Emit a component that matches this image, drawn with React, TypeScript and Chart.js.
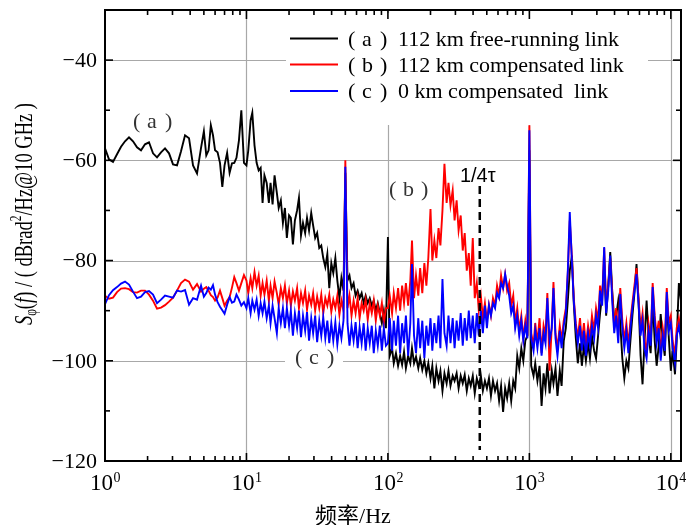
import React, { useEffect, useRef } from "react";
import { Chart, registerables } from "chart.js";

Chart.register(...registerables);

// ---------- data ----------
const FREQ_HZ = [
  1, 1.067, 1.139, 1.216, 1.298, 1.385, 1.478, 1.578, 1.684, 1.797,
  1.918, 2.047, 2.185, 2.332, 2.489, 2.656, 2.835, 3.026, 3.23, 3.447,
  3.679, 3.927, 4.191, 4.473, 4.774,
  5.0, 5.2, 5.4, 5.6, 5.8, 6.0, 6.25, 6.5, 6.75, 7.0,
  7.3, 7.6, 7.9, 8.2, 8.5, 8.85, 9.2, 9.6,
  10.0, 10.3, 10.7, 11.0, 11.4, 11.8, 12.2, 12.6, 13.0, 13.4,
  13.9, 14.4, 14.8, 15.3, 15.8, 16.4, 16.9, 17.5, 18.1, 18.7,
  19.3, 20.0, 20.6, 21.3, 22.0, 22.8, 23.5, 24.3, 25.1, 26.0,
  26.8, 27.7, 28.7, 29.6, 30.6, 31.6, 32.7, 33.8, 34.9, 36.1,
  37.3, 38.5, 39.8, 41.1, 42.5, 43.9, 45.4, 46.9, 48.5, 50.0,
  51.8, 53.5, 55.3, 57.2, 59.1, 61.1, 63.1, 65.2, 67.4, 69.6,
  72.0, 74.4, 76.9, 79.4, 82.1, 84.8, 87.7, 90.6, 93.6, 96.8,
  100, 103, 107, 110, 114, 118, 122, 126, 130, 134,
  139, 144, 148, 153, 158, 164, 169, 175, 181, 187,
  193, 200, 206, 213, 220, 228, 235, 243, 251, 260,
  268, 277, 287, 296, 306, 316, 327, 338, 349, 361,
  373, 385, 398, 411, 425, 439, 454, 469, 485, 501,
  518, 535, 553, 572, 591, 611, 631, 652, 674, 696,
  720, 744, 769, 794, 821, 848, 877, 906, 936, 968,
  1000, 1030, 1070, 1100, 1140, 1180, 1220, 1260, 1300, 1340,
  1390, 1440, 1480, 1530, 1580, 1640, 1690, 1750, 1810, 1870,
  1930, 2000, 2060, 2130, 2200, 2280, 2350, 2430, 2510, 2600,
  2680, 2770, 2870, 2960, 3060, 3160, 3270, 3380, 3490, 3610,
  3730, 3850, 3980, 4110, 4250, 4390, 4540, 4690, 4850, 5010,
  5180, 5350, 5530, 5720, 5910, 6110, 6310, 6520, 6740, 6960,
  7200, 7440, 7690, 7940, 8210, 8480, 8770, 9060, 9360, 9680,
  10000, 10300, 10700, 11000, 11400, 11800,
];

// (a) 112 km free-running link
const FREE_RUNNING_112KM = [
  -57.6, -59.8, -60.3, -58.8, -57.3, -56.2, -55.4, -56.2, -57.4, -58.0,
  -56.8, -56.4, -58.6, -59.4, -58.4, -57.6, -58.6, -60.8, -61.0, -58.2,
  -55.0, -55.6, -61.0, -62.6, -57.5,
  -54.2, -59.0, -58.0, -53.0, -55.0, -58.0, -58.4, -60.5, -65.3, -61.0,
  -58.5, -62.5, -60.6, -60.5, -59.5, -56.0, -50.0, -60.5,
  -61.0, -58.0, -52.0, -50.5, -57.0, -60.5, -62.0, -61.5, -68.5, -63.0,
  -64.5, -68.5, -64.5, -68.8, -63.0, -66.5, -69.5, -68.0, -72.5, -69.5,
  -75.5, -71.0, -71.5, -76.8, -72.0, -70.0, -67.5, -75.0, -72.5, -74.5,
  -71.5, -74.0, -70.5, -73.0, -75.5, -74.5, -77.5, -77.0, -79.5, -81.3,
  -78.7, -85.5, -80.5, -82.5, -79.5, -84.0, -87.5, -83.5, -86.0, -62.5,
  -84.0, -83.0, -85.5, -84.5, -87.0, -86.0, -87.5, -86.5, -88.5, -87.0,
  -88.5, -87.5, -89.0, -88.0, -90.0, -88.5, -90.5, -92.5, -90.0, -93.5,
  -75.3, -99.0, -97.5, -100.5, -98.5, -101.0, -99.0, -100.8, -98.2, -101.5,
  -99.0, -100.5, -97.5, -100.5, -99.2, -101.5, -99.5, -101.8, -100.0, -102.5,
  -100.5, -103.5, -101.0, -105.5, -101.5, -104.0, -102.0, -106.0, -102.5, -104.5,
  -102.0, -105.0, -103.0, -104.0, -102.5, -105.5, -103.0, -104.5, -102.8, -106.0,
  -103.5, -105.0, -103.0, -106.5, -103.5, -105.0, -103.0, -106.0, -104.0, -105.5,
  -103.5, -107.0, -104.0, -106.0, -104.5, -108.0, -105.0, -110.2, -105.5, -107.5,
  -104.5, -108.0, -104.0, -105.5, -99.0, -101.5, -97.5, -100.0, -96.0, -95.0,
  -58.0, -101.0, -103.0, -100.5, -104.0, -101.0, -109.0, -102.5, -105.5, -100.5,
  -106.5, -102.0, -104.5, -101.5, -107.0, -102.0, -105.0, -96.0, -93.5, -88.0,
  -82.0, -79.0, -88.5, -95.5, -100.5, -96.5, -101.0, -97.0, -100.0, -96.5,
  -99.5, -95.0, -98.0, -99.5, -95.0, -90.5, -87.0, -81.0, -91.0, -85.0,
  -78.3, -86.0, -92.0, -91.0, -88.0, -92.5, -99.5, -103.5, -100.0, -101.5,
  -96.0, -91.0, -86.5, -80.7, -88.0, -99.0, -104.7, -96.0, -88.0, -95.0,
  -98.5, -88.0, -96.0, -101.0, -97.0, -90.7, -96.0, -99.0, -88.0, -95.5,
  -102.0, -98.0, -102.7, -96.0, -84.5, -88.0,
];

// (b) 112 km compensated link
const COMPENSATED_112KM = [
  -87.0, -87.6, -87.4, -86.3, -85.6, -85.5, -85.7, -86.3, -86.4, -86.0,
  -86.0, -86.8, -88.0, -89.6, -89.4, -88.9, -88.2, -87.4, -86.0, -84.5,
  -83.8, -84.2, -85.8, -84.7, -86.2,
  -85.6, -85.3, -86.0, -86.9, -87.3, -88.0, -87.4, -86.0, -87.5, -89.0,
  -88.0, -87.3, -85.4, -83.3, -84.5, -86.0, -84.5, -82.9,
  -84.0, -86.5, -83.5, -85.5, -82.3, -85.0, -83.0, -87.0, -84.5, -86.8,
  -84.0, -88.0, -85.0, -87.5, -84.2, -86.5, -88.8, -85.5, -87.5, -85.0,
  -88.5, -86.0, -89.0, -86.2, -88.0, -85.5, -89.5, -86.5, -88.5, -86.0,
  -89.8, -87.0, -88.8, -86.5, -90.0, -87.2, -89.5, -86.8, -90.5, -87.5,
  -89.0, -86.8, -90.2, -87.8, -89.5, -87.0, -90.8, -88.0, -90.0, -60.0,
  -89.5, -87.0, -91.0, -88.0, -90.5, -87.5, -91.5, -88.5, -90.0, -87.8,
  -91.8, -88.5, -90.5, -88.0, -92.0, -89.0, -91.0, -88.5, -92.5, -89.5,
  -89.5, -87.0, -90.5, -86.5, -89.5, -85.5, -90.0, -85.0, -88.5, -84.5,
  -89.0, -84.0, -76.0, -87.5, -83.0, -87.0, -81.5, -86.5, -80.5, -85.0,
  -79.5, -69.7, -80.0, -76.0, -79.5, -73.5, -77.0, -70.0, -60.7, -68.5,
  -64.5, -69.0, -66.0, -72.0, -68.0, -74.0, -71.0, -78.0, -74.5, -82.0,
  -78.5, -85.0, -75.5, -87.5, -84.5, -90.0, -87.0, -91.5, -88.5, -92.0,
  -88.8, -91.0, -87.5, -89.0, -85.0, -87.0, -83.0, -85.5, -82.8, -86.0,
  -84.5, -89.0, -87.0, -92.5, -89.5, -94.0, -91.0, -95.5, -92.0, -95.0,
  -53.0, -94.5, -97.0, -92.5, -96.5, -91.5, -98.5, -93.0, -95.0, -86.5,
  -102.0, -93.0, -84.3, -94.5, -97.5, -93.0, -96.0, -92.0, -89.5, -82.5,
  -72.0, -79.5, -87.5, -92.5, -95.5, -91.5, -96.5, -92.5, -97.0, -93.0,
  -95.5, -91.0, -94.0, -89.5, -92.0, -85.0, -88.0, -77.5, -89.0, -85.0,
  -79.5, -86.5, -93.5, -89.5, -95.0, -85.5, -92.0, -96.0, -92.5, -97.0,
  -92.0, -88.5, -85.0, -81.5, -87.5, -93.5, -90.5, -96.0, -98.0, -92.5,
  -95.5, -84.5, -91.0, -95.0, -92.0, -98.5, -93.5, -96.5, -85.5, -92.5,
  -91.0, -96.0, -99.0, -93.5, -91.5, -94.5,
];

// (c) 0 km compensated link
const COMPENSATED_0KM = [
  -88.7, -86.9, -85.9, -85.3, -84.6, -84.2, -84.8, -86.2, -87.5, -87.2,
  -86.3, -86.1, -86.8, -88.5, -87.8, -87.0, -87.2, -87.4, -86.0, -86.2,
  -85.9, -88.8, -87.5, -87.8, -85.0,
  -87.2, -86.5, -85.4, -85.8, -84.9, -86.8, -88.3, -89.2, -89.9, -90.6,
  -88.8, -87.3, -88.4, -88.2, -86.8, -87.8, -89.0, -88.3,
  -89.5, -87.5, -90.5, -88.0, -89.8, -87.8, -91.0, -88.5, -90.5, -88.2,
  -91.5, -89.0, -92.5, -89.0, -91.5, -94.5, -89.5, -92.5, -89.5, -93.5,
  -89.5, -93.0, -90.0, -95.0, -90.5, -93.5, -90.0, -95.3, -91.0, -94.0,
  -90.3, -96.0, -91.5, -94.5, -91.0, -96.3, -92.0, -95.0, -91.3, -95.5,
  -92.0, -96.5, -92.5, -96.0, -92.3, -96.7, -93.0, -95.5, -92.0, -61.3,
  -92.5, -97.0, -93.0, -96.0, -92.3, -97.5, -93.3, -96.5, -92.5, -98.0,
  -93.5, -96.5, -93.0, -98.5, -94.0, -97.0, -93.0, -98.0, -93.5, -97.0,
  -96.5, -91.5, -98.0, -92.0, -97.0, -91.0, -98.5, -92.5, -96.5, -91.0,
  -99.0, -92.5, -80.7, -95.0, -98.5, -91.5, -97.5, -92.0, -99.5, -93.0,
  -97.0, -91.5, -98.0, -92.5, -96.5, -91.0, -97.5, -83.7, -94.5, -97.0,
  -91.0, -96.5, -91.5, -97.5, -92.0, -96.0, -90.5, -97.0, -91.5, -96.0,
  -90.0, -95.5, -91.0, -96.5, -90.5, -95.0, -90.0, -94.5, -89.0, -93.5,
  -89.0, -91.0, -88.5, -89.5, -86.5, -87.5, -84.5, -85.5, -82.7, -85.0,
  -87.0, -90.5, -89.0, -93.5, -91.0, -95.0, -92.0, -96.0, -93.0, -95.5,
  -54.0, -95.5, -98.0, -94.0, -97.5, -93.5, -99.0, -94.5, -96.5, -87.5,
  -96.0, -93.5, -85.5, -95.5, -99.0, -94.0, -97.5, -93.0, -90.5, -82.0,
  -70.3, -80.5, -88.0, -93.5, -96.5, -93.0, -98.0, -94.0, -99.0, -94.5,
  -97.0, -93.0, -95.5, -91.0, -93.5, -86.0, -89.0, -77.3, -90.5, -86.0,
  -79.0, -88.0, -94.5, -91.0, -96.5, -86.7, -93.5, -97.5, -94.0, -98.5,
  -93.5, -89.5, -86.0, -82.7, -88.5, -95.0, -92.0, -97.5, -99.5, -94.0,
  -97.0, -85.3, -92.0, -96.5, -93.5, -100.0, -95.0, -98.0, -86.3, -94.0,
  -92.5, -97.5, -100.5, -95.0, -93.0, -96.0,
];

const SERIES_TAGS = ["a", "b", "c"];
const SERIES_LABELS = [
  "112 km free-running link",
  "112 km compensated link",
  "0 km compensated  link",
];
const SERIES_COLORS = ["#000000", "#ff0000", "#0000ff"];

const Y_MAJOR = [-120, -100, -80, -60, -40];
const Y_MAJOR_LABELS = ["\u2212120", "\u2212100", "\u221280", "\u221260", "\u221240"];
const Y_MINOR = [-110, -90, -70, -50];
const Y_GRID = [-100, -80, -60, -40];
const X_DECADES = [1, 10, 100, 1000, 10000];
const X_DECADE_EXP = ["0", "1", "2", "3", "4"];
const X_GRID = [10, 100, 1000, 10000];
const X_MINOR_MULT = [2, 3, 4, 5, 6, 7, 8, 9];
const X_MIN = 1;
const X_MAX = 11800;
const Y_MIN = -120;
const Y_MAX = -30;
const QUARTER_TAU_HZ = 446;

const SERIF = "'Liberation Serif', 'DejaVu Serif', serif";
const SANS = "'Liberation Sans', 'DejaVu Sans', sans-serif";

function hLine(ctx: CanvasRenderingContext2D, x1: number, y1: number, x2: number, y2: number) {
  ctx.beginPath();
  ctx.moveTo(x1, y1);
  ctx.lineTo(x2, y2);
  ctx.stroke();
}

function parenTag(ctx: CanvasRenderingContext2D, tag: string, x: number, base: number) {
  ctx.textAlign = "left";
  ctx.textBaseline = "alphabetic";
  ctx.fillText("(", x, base);
  ctx.fillText(tag, x + 14, base);
  ctx.fillText(")", x + 32, base);
}

const decor = {
  id: "decor",
  beforeDatasetsDraw(chart: any) {
    const { ctx, chartArea: a, scales } = chart;
    const xs = scales.x;
    const ys = scales.y;
    ctx.save();
    ctx.strokeStyle = "#a8a8a8";
    ctx.lineWidth = 1.2;
    for (const v of Y_GRID) {
      const py = Math.round(ys.getPixelForValue(v)) + 0.5;
      hLine(ctx, a.left, py, a.right, py);
    }
    for (const v of X_GRID) {
      const px = Math.round(xs.getPixelForValue(v)) + 0.5;
      hLine(ctx, px, a.top, px, a.bottom);
    }
    // white backgrounds of legend and label (c)
    ctx.fillStyle = "#ffffff";
    ctx.fillRect(286, 13, 362, 112);
    ctx.fillRect(285, 349, 58, 22);
    ctx.restore();
  },
  afterDatasetsDraw(chart: any) {
    const { ctx, chartArea: a, scales } = chart;
    const xs = scales.x;
    const ys = scales.y;
    ctx.save();

    // 1/4tau dashed marker
    const qx = xs.getPixelForValue(QUARTER_TAU_HZ);
    ctx.strokeStyle = "#000";
    ctx.lineWidth = 2.5;
    ctx.setLineDash([8, 5]);
    hLine(ctx, qx, 186, qx, 450);
    ctx.setLineDash([]);
    ctx.fillStyle = "#000";
    ctx.font = `20px ${SANS}`;
    ctx.textAlign = "center";
    ctx.textBaseline = "alphabetic";
    ctx.fillText("1/4\u03c4", qx - 2, 182);

    // frame
    ctx.strokeStyle = "#000";
    ctx.lineWidth = 2;
    ctx.strokeRect(a.left, a.top, a.right - a.left, a.bottom - a.top);

    // ticks
    ctx.lineWidth = 1.6;
    for (const v of Y_MAJOR) {
      const py = ys.getPixelForValue(v);
      hLine(ctx, a.left, py, a.left + 8, py);
      hLine(ctx, a.right, py, a.right - 8, py);
    }
    for (const v of Y_MINOR) {
      const py = ys.getPixelForValue(v);
      hLine(ctx, a.left, py, a.left + 5, py);
      hLine(ctx, a.right, py, a.right - 5, py);
    }
    for (const d of X_DECADES) {
      const px = xs.getPixelForValue(d);
      hLine(ctx, px, a.bottom, px, a.bottom - 8);
      hLine(ctx, px, a.top, px, a.top + 9);
      for (const m of X_MINOR_MULT) {
        const f = d * m;
        if (f > X_MAX) continue;
        const qx2 = xs.getPixelForValue(f);
        hLine(ctx, qx2, a.bottom, qx2, a.bottom - 5);
        hLine(ctx, qx2, a.top, qx2, a.top + 5);
      }
    }

    // y tick labels
    ctx.fillStyle = "#000";
    ctx.font = `22px ${SERIF}`;
    ctx.textAlign = "right";
    ctx.textBaseline = "middle";
    Y_MAJOR.forEach((v, i) => {
      ctx.fillText(Y_MAJOR_LABELS[i], a.left - 8, ys.getPixelForValue(v) + 1);
    });

    // x tick labels 10^n
    ctx.textAlign = "left";
    ctx.textBaseline = "alphabetic";
    X_DECADES.forEach((d, i) => {
      const px = xs.getPixelForValue(d);
      ctx.font = `23px ${SERIF}`;
      const w1 = ctx.measureText("10").width;
      ctx.font = `14px ${SERIF}`;
      const w2 = ctx.measureText(X_DECADE_EXP[i]).width;
      const x0 = px - (w1 + w2) / 2;
      ctx.font = `23px ${SERIF}`;
      ctx.fillText("10", x0, 490);
      ctx.font = `14px ${SERIF}`;
      ctx.fillText(X_DECADE_EXP[i], x0 + w1 + 0.5, 482);
    });

    // x title
    ctx.font = `22px ${SERIF}, 'Noto Sans CJK SC'`;
    ctx.textAlign = "center";
    ctx.fillText("\u9891\u7387/Hz", 353, 523);

    // y title (rotated)
    ctx.save();
    ctx.translate(32, 214);
    ctx.rotate(-Math.PI / 2);
    const segs = [
      { t: "S", f: `italic 26px ${SERIF}`, dy: 0 },
      { t: "\u03c6", f: `16px ${SERIF}`, dy: 4 },
      { t: "(", f: `26px ${SERIF}`, dy: 0 },
      { t: "f", f: `italic 26px ${SERIF}`, dy: 0 },
      { t: ") / ( dBrad", f: `26px ${SERIF}`, dy: 0 },
      { t: "2", f: `16px ${SERIF}`, dy: -11 },
      { t: "/Hz@10 GHz )", f: `26px ${SERIF}`, dy: 0 },
    ];
    let total = 0;
    const widths = segs.map((s) => {
      ctx.font = s.f;
      const w = ctx.measureText(s.t).width;
      total += w;
      return w;
    });
    const sx = 222 / total;
    ctx.scale(sx, 1);
    let cx = -total / 2;
    ctx.textAlign = "left";
    segs.forEach((s, i) => {
      ctx.font = s.f;
      ctx.fillText(s.t, cx, s.dy);
      cx += widths[i];
    });
    ctx.restore();

    // legend
    ctx.font = `22px ${SERIF}`;
    ctx.lineWidth = 2;
    const rows = [38.5, 64.5, 91];
    SERIES_TAGS.forEach((tag, i) => {
      ctx.strokeStyle = SERIES_COLORS[i];
      hLine(ctx, 290, rows[i], 338, rows[i]);
      ctx.fillStyle = "#000";
      parenTag(ctx, tag, 348, rows[i] + 7);
      ctx.textAlign = "left";
      ctx.fillText(SERIES_LABELS[i], 398, rows[i] + 7);
    });

    // curve labels
    ctx.fillStyle = "#333";
    ctx.font = `22px ${SERIF}`;
    parenTag(ctx, "a", 133, 128);
    parenTag(ctx, "b", 389, 196);
    parenTag(ctx, "c", 295, 364);

    ctx.restore();
  },
};

export default function App() {
  const ref = useRef<HTMLCanvasElement | null>(null);
  useEffect(() => {
    if (!ref.current) return;
    const seriesValues = [FREE_RUNNING_112KM, COMPENSATED_112KM, COMPENSATED_0KM];
    const chart = new Chart(ref.current, {
      type: "line",
      data: {
        datasets: seriesValues.map((vals, si) => ({
          label: SERIES_LABELS[si],
          data: FREQ_HZ.map((f, i) => ({ x: f, y: vals[i] })),
          borderColor: SERIES_COLORS[si],
          backgroundColor: SERIES_COLORS[si],
          borderWidth: 1.9,
          pointRadius: 0,
          tension: 0,
          fill: false,
          order: 3 - si,
        })),
      },
      options: {
        animation: false,
        responsive: false,
        events: [],
        layout: { padding: { left: 105, right: 6, top: 10, bottom: 64 } },
        plugins: { legend: { display: false }, tooltip: { enabled: false } },
        scales: {
          x: { type: "logarithmic", min: X_MIN, max: X_MAX, display: false },
          y: { type: "linear", min: Y_MIN, max: Y_MAX, display: false },
        },
      },
      plugins: [decor],
    } as any);
    return () => chart.destroy();
  }, []);
  return (
    <div style={{ position: "fixed", left: 0, top: 0, width: 687, height: 525, background: "#fff" }}>
      <canvas ref={ref} width={687} height={525} />
    </div>
  );
}
